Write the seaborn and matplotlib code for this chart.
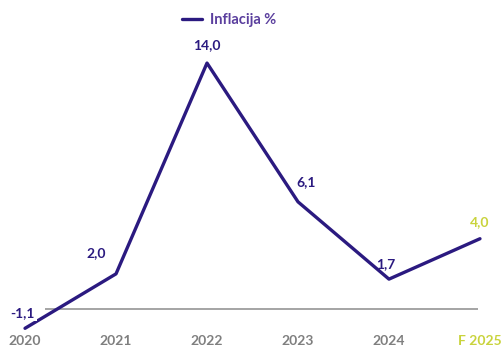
import matplotlib
matplotlib.use("Agg")
import matplotlib.pyplot as plt
import seaborn as sns
import pandas as pd
from matplotlib.lines import Line2D

years = ["2020", "2021", "2022", "2023", "2024", "F 2025"]
inflation = [-1.1, 2.0, 14.0, 6.1, 1.7, 4.0]
labels = ["-1,1", "2,0", "14,0", "6,1", "1,7", "4,0"]

sns.set_theme(style="white")
plt.rcParams["font.family"] = ["Lato", "DejaVu Sans"]

LINE = "#2b1a80"
LABEL = "#2b1a80"
LEGEND_TXT = "#5b3f9e"
FORECAST = "#c9d33c"
TICK = "#7f7f7f"

df = pd.DataFrame({"pos": range(len(years)), "value": inflation})

fig = plt.figure(figsize=(5.03, 3.5), dpi=100)
ax = fig.add_axes([0, 18 / 350, 1, 332 / 350])

sns.lineplot(data=df, x="pos", y="value", ax=ax, color=LINE, linewidth=2.4)

ax.set_xlim(-0.275, 5.253)
ax.set_ylim(-1.31, 17.59)

# zero baseline
ax.hlines(0, 0.22, 4.98, color="#8c8c8c", linewidth=1.1, zorder=1)

# value labels
offsets = [(-2, 11), (-14, 15), (0, 13), (6, 14), (-2, 11), (0, 12)]
for i, (v, lab, off) in enumerate(zip(inflation, labels, offsets)):
    color = FORECAST if i == len(years) - 1 else LABEL
    kw = {}
    if i == 0:
        kw["bbox"] = dict(boxstyle="square,pad=0.15", fc="white", ec="none")
    ax.annotate(lab, (i, v), xytext=off, textcoords="offset points",
                ha="center", va="center", fontsize=10, fontweight="bold",
                color=color, zorder=5, **kw)

ax.set_xticks(range(len(years)))
ax.set_xticklabels(years, fontsize=10, fontweight="bold")
for i, t in enumerate(ax.get_xticklabels()):
    t.set_color(FORECAST if i == len(years) - 1 else TICK)
ax.tick_params(axis="x", length=0, pad=2)
ax.set_yticks([])
ax.set_xlabel("")
ax.set_ylabel("")
for s in ax.spines.values():
    s.set_visible(False)

handle = Line2D([], [], color=LINE, linewidth=2.4)
leg = ax.legend([handle], ["Inflacija %"], loc="upper center",
                bbox_to_anchor=(0.455, 1.0), frameon=False, fontsize=10.5,
                handlelength=1.4, handletextpad=0.5)
for t in leg.get_texts():
    t.set_color(LEGEND_TXT)
    t.set_fontweight("bold")

fig.savefig("out.png", dpi=100)
